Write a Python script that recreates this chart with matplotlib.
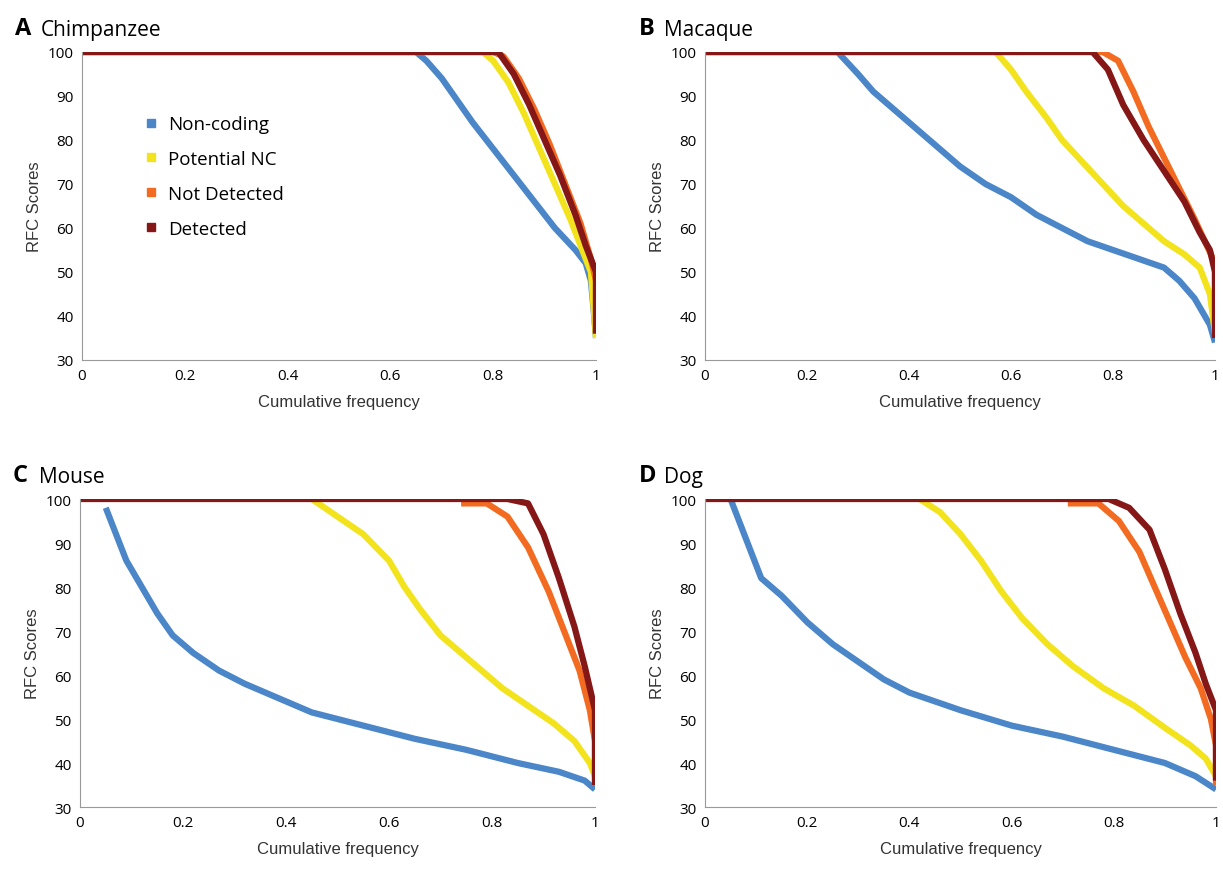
import matplotlib
matplotlib.use("Agg")
import matplotlib.pyplot as plt
from matplotlib.lines import Line2D

names = ["Non-coding", "Potential NC", "Not Detected", "Detected"]
colors = ["#4a86c8", "#f2e31c", "#f26b21", "#861717"]

chimp_nc_x = [0,0.65,0.67,0.7,0.73,0.76,0.8,0.84,0.88,0.92,0.96,0.98,0.99,0.995,1]
chimp_nc_y = [100,100,98,94,89,84,78,72,66,60,55,52,48,42,35]
chimp_pnc_x = [0,0.78,0.8,0.83,0.86,0.89,0.92,0.95,0.97,0.99,1]
chimp_pnc_y = [100,100,98,93,86,78,70,62,56,50,35]
chimp_nd_x = [0,0.8,0.82,0.85,0.88,0.91,0.94,0.97,0.99,1,1]
chimp_nd_y = [100,100,99,94,87,79,70,61,53,48,36]
chimp_d_x = [0,0.81,0.84,0.87,0.9,0.93,0.96,0.98,1,1]
chimp_d_y = [100,100,95,88,80,72,63,56,50,36]

mac_nc_x = [0,0.26,0.3,0.33,0.38,0.42,0.46,0.5,0.55,0.6,0.65,0.7,0.75,0.8,0.85,0.9,0.93,0.96,0.99,1]
mac_nc_y = [100,100,95,91,86,82,78,74,70,67,63,60,57,55,53,51,48,44,38,34]
mac_pnc_x = [0,0.57,0.6,0.63,0.67,0.7,0.74,0.78,0.82,0.86,0.9,0.94,0.97,0.99,1]
mac_pnc_y = [100,100,96,91,85,80,75,70,65,61,57,54,51,45,36]
mac_nd_x = [0,0.78,0.81,0.84,0.87,0.9,0.93,0.96,0.98,1,1]
mac_nd_y = [100,100,98,91,83,76,69,62,57,52,35]
mac_d_x = [0,0.76,0.79,0.82,0.86,0.9,0.94,0.97,0.99,1,1]
mac_d_y = [100,100,96,88,80,73,66,59,55,50,35]

mou_nc_x = [0.05,0.07,0.09,0.12,0.15,0.18,0.22,0.27,0.32,0.38,0.45,0.55,0.65,0.75,0.85,0.93,0.98,1]
mou_nc_y = [98,92,86,80,74,69,65,61,58,55,51.5,48.5,45.5,43,40,38,36,34]
mou_pnc_x = [0.45,0.5,0.55,0.6,0.63,0.66,0.7,0.74,0.78,0.82,0.87,0.92,0.96,0.99,1]
mou_pnc_y = [100,96,92,86,80,75,69,65,61,57,53,49,45,40,37]
mou_nd_x = [0.74,0.79,0.83,0.87,0.91,0.94,0.97,0.99,1,1]
mou_nd_y = [99,99,96,89,79,70,61,52,45,35]
mou_d_x = [0,0.83,0.87,0.9,0.93,0.96,0.98,1,1]
mou_d_y = [100,100,99,92,82,71,62,52,35]

dog_nc_x = [0.05,0.07,0.09,0.11,0.15,0.2,0.25,0.3,0.35,0.4,0.5,0.6,0.7,0.8,0.9,0.96,1]
dog_nc_y = [100,94,88,82,78,72,67,63,59,56,52,48.5,46,43,40,37,34]
dog_pnc_x = [0.42,0.46,0.5,0.54,0.58,0.62,0.67,0.72,0.78,0.84,0.9,0.95,0.98,1]
dog_pnc_y = [100,97,92,86,79,73,67,62,57,53,48,44,41,37]
dog_nd_x = [0.71,0.77,0.81,0.85,0.88,0.91,0.94,0.97,0.99,1,1]
dog_nd_y = [99,99,95,88,80,72,64,57,50,44,35]
dog_d_x = [0,0.79,0.83,0.87,0.9,0.93,0.96,0.98,1,1]
dog_d_y = [100,100,98,93,84,74,65,58,52,36]

panels = [
    ("A", "Chimpanzee", [(chimp_nc_x, chimp_nc_y), (chimp_pnc_x, chimp_pnc_y), (chimp_nd_x, chimp_nd_y), (chimp_d_x, chimp_d_y)]),
    ("B", "Macaque", [(mac_nc_x, mac_nc_y), (mac_pnc_x, mac_pnc_y), (mac_nd_x, mac_nd_y), (mac_d_x, mac_d_y)]),
    ("C", "Mouse", [(mou_nc_x, mou_nc_y), (mou_pnc_x, mou_pnc_y), (mou_nd_x, mou_nd_y), (mou_d_x, mou_d_y)]),
    ("D", "Dog", [(dog_nc_x, dog_nc_y), (dog_pnc_x, dog_pnc_y), (dog_nd_x, dog_nd_y), (dog_d_x, dog_d_y)]),
]

W, H = 1223, 870
fig = plt.figure(figsize=(W/100, H/100), dpi=100)
plt.rcParams['font.family'] = ['Open Sans', 'DejaVu Sans']
boxes = [(82, 596, 53, 361), (705, 1215, 53, 361), (80, 595, 500, 808), (705, 1216, 500, 808)]
for (letter, title, series), (x0, x1, yt, yb) in zip(panels, boxes):
    ax = fig.add_axes([x0/W, 1-yb/H, (x1-x0)/W, (yb-yt)/H])
    for (xs, ys), c in zip(series, colors):
        ax.plot(xs, ys, color=c, lw=4.5, solid_capstyle='butt')
    ax.set_xlim(0, 1)
    ax.set_ylim(30, 100)
    ax.set_xticks([0, 0.2, 0.4, 0.6, 0.8, 1])
    ax.set_xticklabels(["0", "0.2", "0.4", "0.6", "0.8", "1"])
    ax.set_yticks(range(30, 101, 10))
    ax.tick_params(length=0, labelsize=11, pad=6)
    for s in ["top", "right"]:
        ax.spines[s].set_visible(False)
    for s in ["left", "bottom"]:
        ax.spines[s].set_color("#999999")
    ax.set_ylabel("RFC Scores", fontsize=12, color="#333333", family=['Liberation Sans', 'DejaVu Sans'])
    ax.set_xlabel("Cumulative frequency", fontsize=12, color="#333333", labelpad=8,
                  family=['Liberation Sans', 'DejaVu Sans'])
    ax.text(-0.13, 1.04, letter, transform=ax.transAxes, fontsize=17, fontweight='bold', va='bottom')
    ax.text(-0.08, 1.04, title, transform=ax.transAxes, fontsize=15, va='bottom')
    if letter == "A":
        handles = [Line2D([], [], marker='s', ls='', color=c, markersize=6) for c in colors]
        ax.legend(handles, names, loc='upper left', bbox_to_anchor=(0.08, 0.85), frameon=False,
                  fontsize=13.5, handletextpad=0.3, handlelength=1.2, labelspacing=0.9)
fig.savefig("out.png", dpi=100)
